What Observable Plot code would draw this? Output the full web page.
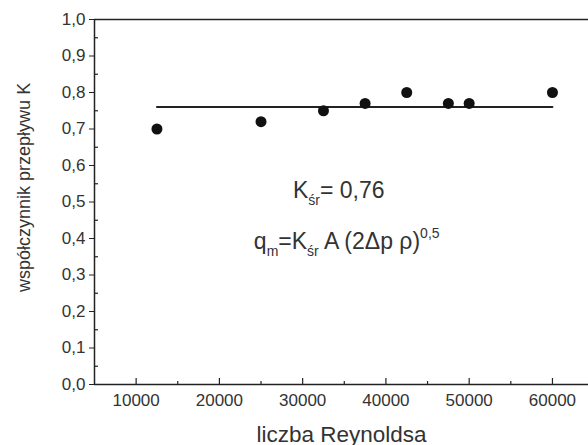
<!DOCTYPE html>
<html><head><meta charset="utf-8">
<script src="https://cdn.jsdelivr.net/npm/d3@7"></script>
<script src="https://cdn.jsdelivr.net/npm/@observablehq/plot@0.6"></script>
<style>
body{margin:0;background:#fff;}
#chart{width:588px;height:445px;overflow:hidden;}
svg{font-family:"Liberation Sans",Arial,sans-serif;}
</style>
</head><body><div id="chart"></div>
<script>
// ---- data ----
const reynolds = [12500, 25000, 32500, 37500, 42500, 47500, 50000, 60000];
const kValues  = [0.70, 0.72, 0.75, 0.77, 0.80, 0.77, 0.77, 0.80];
const kMean = 0.76;
const xTicks = [10000, 20000, 30000, 40000, 50000, 60000];
const xMinorTicks = [15000, 25000, 35000, 45000, 55000];
const yTicks = [0, 0.1, 0.2, 0.3, 0.4, 0.5, 0.6, 0.7, 0.8, 0.9, 1.0];
const yMinorTicks = [0.05, 0.15, 0.25, 0.35, 0.45, 0.55, 0.65, 0.75, 0.85, 0.95];
const xLabel = "liczba Reynoldsa";
const yLabel = "współczynnik przepływu K";
const meanText = "KMEAN_PLACEHOLDER";
const formulaText = "FORMULA_PLACEHOLDER";

const xDomain = [5000, 64330];
const yDomain = [0, 1];

const points = reynolds.map((r, i) => ({x: r, y: kValues[i]}));
const meanLine = [{x: reynolds[0], y: kMean}, {x: reynolds[reynolds.length - 1], y: kMean}];
const comma = d => d.toFixed(1).replace(".", ",");
const ink = "#222";
const textInk = "#333";

const plot = Plot.plot({
  width: 588,
  height: 445,
  marginLeft: 94,
  marginRight: 0,
  marginTop: 19,
  marginBottom: 61,
  style: {background: "#fff", color: textInk, fontFamily: "Liberation Sans, Arial, sans-serif"},
  x: {domain: xDomain},
  y: {domain: yDomain},
  marks: [
    // axes frame lines
    Plot.ruleY([yDomain[1]], {stroke: ink, strokeWidth: 1.5}),
    Plot.ruleY([yDomain[0]], {stroke: ink, strokeWidth: 1.5}),
    Plot.ruleX([xDomain[0]], {y1: yDomain[0], y2: yDomain[1], stroke: ink, strokeWidth: 1.5}),
    // x ticks (inward)
    Plot.ruleX(xTicks, {y1: yDomain[0], y2: yDomain[0], insetTop: -6, stroke: ink, strokeWidth: 1.2}),
    Plot.ruleX(xMinorTicks, {y1: yDomain[0], y2: yDomain[0], insetTop: -3, stroke: ink, strokeWidth: 1.2}),
    // y minor ticks (inward)
    Plot.ruleY(yMinorTicks, {x1: xDomain[0], x2: xDomain[0], insetRight: -4, stroke: ink, strokeWidth: 1.2}),
    Plot.axisY({ticks: yTicks, tickSize: 5, tickPadding: 4, tickFormat: comma, fontSize: 17, label: null, stroke: ink}),
    Plot.axisX({ticks: xTicks, tickSize: 0, tickPadding: 9, tickFormat: d => String(d), fontSize: 17, label: null}),
    // axis titles
    Plot.text([xLabel], {frameAnchor: "bottom", dy: 57, fontSize: 22.5, fill: textInk}),
    Plot.text([yLabel], {x: xDomain[0], y: 0.54, rotate: -90, dx: -70, fontSize: 18, fill: textInk}),
    // mean line and points
    Plot.line(meanLine, {x: "x", y: "y", stroke: ink, strokeWidth: 2}),
    Plot.dot(points, {x: "x", y: "y", r: 5.5, fill: "#111", stroke: "none"}),
    // annotations
    Plot.text([meanText], {x: 34330, y: 0.51, fontSize: 23, fill: textInk, lineAnchor: "bottom"}),
    Plot.text([formulaText], {x: 35290, y: 0.37, fontSize: 23, fill: textInk, lineAnchor: "bottom"})
  ]
});
document.getElementById("chart").appendChild(plot);

// rich text for subscripts / superscripts
function rich(placeholder, parts) {
  plot.querySelectorAll("text").forEach(t => {
    if (t.textContent === placeholder) {
      while (t.firstChild) t.removeChild(t.firstChild);
      let shift = 0;
      parts.forEach(([s, kind]) => {
        const ts = document.createElementNS("http://www.w3.org/2000/svg", "tspan");
        const target = kind === "sub" ? 7 : kind === "sup" ? -11 : 0;
        ts.setAttribute("dy", target - shift);
        shift = target;
        if (kind) ts.setAttribute("font-size", "14");
        ts.textContent = s;
        t.appendChild(ts);
      });
    }
  });
}
rich(meanText, [["K"], ["śr", "sub"], ["= 0,76"]]);
rich(formulaText, [["q"], ["m", "sub"], ["=K"], ["śr", "sub"], [" A (2Δp ρ)"], ["0,5", "sup"]]);
</script>
</body></html>
